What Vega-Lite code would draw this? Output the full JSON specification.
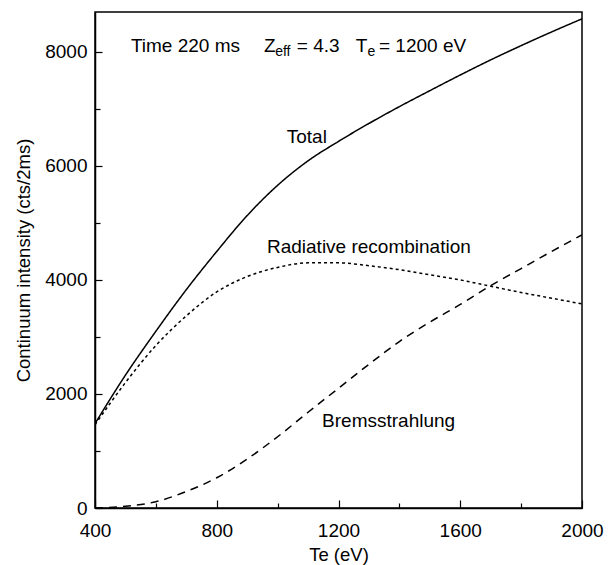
{
  "$schema": "https://vega.github.io/schema/vega-lite/v6.json",
  "width": 487,
  "height": 496,
  "autosize": {"type": "none"},
  "padding": {"left": 95, "top": 12, "right": 34, "bottom": 57},
  "background": "white",
  "config": {
    "view": {"stroke": "black", "strokeWidth": 1.5},
    "font": "Liberation Sans",
    "axis": {
      "domainColor": "black",
      "domainWidth": 1.5,
      "tickColor": "black",
      "tickWidth": 1.2,
      "labelColor": "black",
      "titleColor": "black",
      "labelFont": "Liberation Sans",
      "titleFont": "Liberation Sans",
      "labelFontSize": 19,
      "titleFontSize": 18.5,
      "titleFontWeight": "normal",
      "grid": false
    }
  },
  "datasets": {
    "curves": [
      {"te": 400, "v": 1480, "s": "Total"},
      {"te": 500, "v": 2330, "s": "Total"},
      {"te": 600, "v": 3100, "s": "Total"},
      {"te": 700, "v": 3830, "s": "Total"},
      {"te": 800, "v": 4500, "s": "Total"},
      {"te": 900, "v": 5130, "s": "Total"},
      {"te": 1000, "v": 5660, "s": "Total"},
      {"te": 1100, "v": 6090, "s": "Total"},
      {"te": 1200, "v": 6430, "s": "Total"},
      {"te": 1300, "v": 6745, "s": "Total"},
      {"te": 1400, "v": 7040, "s": "Total"},
      {"te": 1500, "v": 7320, "s": "Total"},
      {"te": 1600, "v": 7595, "s": "Total"},
      {"te": 1700, "v": 7860, "s": "Total"},
      {"te": 1800, "v": 8110, "s": "Total"},
      {"te": 1900, "v": 8350, "s": "Total"},
      {"te": 2000, "v": 8580, "s": "Total"},
      {"te": 400, "v": 1460, "s": "Radiative recombination"},
      {"te": 500, "v": 2200, "s": "Radiative recombination"},
      {"te": 600, "v": 2850, "s": "Radiative recombination"},
      {"te": 700, "v": 3370, "s": "Radiative recombination"},
      {"te": 800, "v": 3790, "s": "Radiative recombination"},
      {"te": 900, "v": 4060, "s": "Radiative recombination"},
      {"te": 1000, "v": 4220, "s": "Radiative recombination"},
      {"te": 1100, "v": 4300, "s": "Radiative recombination"},
      {"te": 1200, "v": 4300, "s": "Radiative recombination"},
      {"te": 1300, "v": 4250, "s": "Radiative recombination"},
      {"te": 1400, "v": 4180, "s": "Radiative recombination"},
      {"te": 1500, "v": 4090, "s": "Radiative recombination"},
      {"te": 1600, "v": 4000, "s": "Radiative recombination"},
      {"te": 1700, "v": 3890, "s": "Radiative recombination"},
      {"te": 1800, "v": 3780, "s": "Radiative recombination"},
      {"te": 1900, "v": 3680, "s": "Radiative recombination"},
      {"te": 2000, "v": 3580, "s": "Radiative recombination"},
      {"te": 400, "v": 0, "s": "Bremsstrahlung"},
      {"te": 500, "v": 30, "s": "Bremsstrahlung"},
      {"te": 600, "v": 110, "s": "Bremsstrahlung"},
      {"te": 700, "v": 290, "s": "Bremsstrahlung"},
      {"te": 800, "v": 530, "s": "Bremsstrahlung"},
      {"te": 900, "v": 860, "s": "Bremsstrahlung"},
      {"te": 1000, "v": 1250, "s": "Bremsstrahlung"},
      {"te": 1100, "v": 1680, "s": "Bremsstrahlung"},
      {"te": 1200, "v": 2100, "s": "Bremsstrahlung"},
      {"te": 1300, "v": 2520, "s": "Bremsstrahlung"},
      {"te": 1400, "v": 2920, "s": "Bremsstrahlung"},
      {"te": 1500, "v": 3260, "s": "Bremsstrahlung"},
      {"te": 1600, "v": 3570, "s": "Bremsstrahlung"},
      {"te": 1700, "v": 3900, "s": "Bremsstrahlung"},
      {"te": 1800, "v": 4200, "s": "Bremsstrahlung"},
      {"te": 1900, "v": 4500, "s": "Bremsstrahlung"},
      {"te": 2000, "v": 4790, "s": "Bremsstrahlung"}
    ],
    "labels": [
      {"te": 518, "v": 8000, "t": "Time 220 ms"},
      {"te": 955, "v": 8000, "t": "Z"},
      {"te": 1063, "v": 8000, "t": "= 4.3"},
      {"te": 1257, "v": 8000, "t": "T"},
      {"te": 1333, "v": 8000, "t": "= 1200 eV"},
      {"te": 1030, "v": 6400, "t": "Total"},
      {"te": 965, "v": 4480, "t": "Radiative recombination"},
      {"te": 1146, "v": 1420, "t": "Bremsstrahlung"}
    ],
    "subs": [
      {"te": 992, "v": 7920, "t": "eff"},
      {"te": 1295, "v": 7920, "t": "e"}
    ]
  },
  "layer": [
    {
      "data": {"name": "curves"},
      "mark": {"type": "line", "color": "black", "strokeWidth": 1.5, "interpolate": "monotone", "clip": true},
      "encoding": {
        "x": {
          "field": "te", "type": "quantitative",
          "scale": {"domain": [400, 2000], "nice": false, "zero": false},
          "axis": {
            "title": "Te (eV)",
            "values": [400, 600, 800, 1000, 1200, 1400, 1600, 1800, 2000],
            "labelExpr": "datum.value % 400 === 0 ? datum.label : ''",
            "format": "d",
            "tickSize": {"condition": {"test": "datum.value % 400 === 0", "value": -8}, "value": -5},
            "labelPadding": 21,
            "labelFlush": false,
            "titlePadding": 5
          }
        },
        "y": {
          "field": "v", "type": "quantitative",
          "scale": {"domain": [0, 8700], "nice": false},
          "axis": {
            "title": "Continuum intensity (cts/2ms)",
            "values": [0, 1000, 2000, 3000, 4000, 5000, 6000, 7000, 8000],
            "labelExpr": "datum.value % 2000 === 0 ? datum.label : ''",
            "format": "d",
            "tickSize": {"condition": {"test": "datum.value % 2000 === 0", "value": -7}, "value": -5},
            "labelPadding": 15,
            "labelFlush": false,
            "titlePadding": 11
          }
        },
        "strokeDash": {
          "field": "s", "type": "nominal",
          "scale": {
            "domain": ["Total", "Radiative recombination", "Bremsstrahlung"],
            "range": [[1, 0], [3, 3], [8, 6]]
          },
          "legend": null
        }
      }
    },
    {
      "data": {"name": "labels"},
      "mark": {"type": "text", "align": "left", "baseline": "alphabetic", "fontSize": 19, "color": "black", "font": "Liberation Sans"},
      "encoding": {
        "x": {"field": "te", "type": "quantitative"},
        "y": {"field": "v", "type": "quantitative"},
        "text": {"field": "t"}
      }
    },
    {
      "data": {"name": "subs"},
      "mark": {"type": "text", "align": "left", "baseline": "alphabetic", "fontSize": 14, "color": "black", "font": "Liberation Sans"},
      "encoding": {
        "x": {"field": "te", "type": "quantitative"},
        "y": {"field": "v", "type": "quantitative"},
        "text": {"field": "t"}
      }
    }
  ]
}
